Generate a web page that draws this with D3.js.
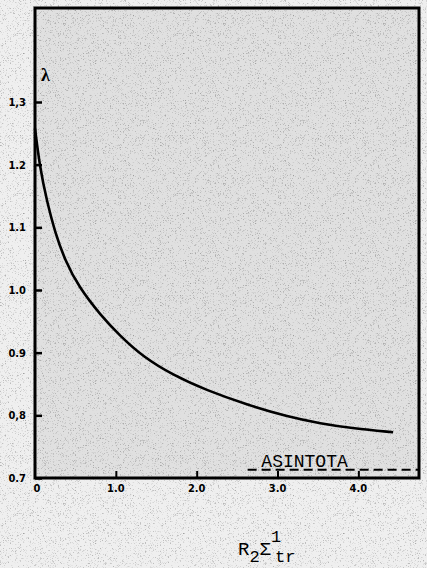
<!DOCTYPE html>
<html>
<head>
<meta charset="utf-8">
<script src="https://cdn.jsdelivr.net/npm/d3@7"></script>
<style>
  html, body { margin: 0; padding: 0; background: #e9e9e9; }
  svg { display: block; }
</style>
</head>
<body>
<div id="chart"></div>
<script>
// values
var curveX = [0, 0.06, 0.145, 0.25, 0.37, 0.54, 0.81, 1.05, 1.34, 1.71, 2.12, 2.62, 3.12, 3.53, 3.94, 4.43];
var curveY = [1.258, 1.196, 1.143, 1.091, 1.048, 1.005, 0.960, 0.927, 0.893, 0.864, 0.840, 0.817, 0.798, 0.787, 0.779, 0.773];
var yTicks = [0.7, 0.8, 0.9, 1.0, 1.1, 1.2, 1.3];
var yTickLabels = ["0.7", "0,8", "0.9", "1.0", "1.1", "1.2", "1,3"];
var xTicks = [0, 1, 2, 3, 4];
var xTickLabels = ["0", "1.0", "2.0", "3.0", "4.0"];
var asymptote = 0.713;
var asymptoteFrom = 2.63;

var width = 427, height = 568;
var plotLeft = 35, plotRight = 419, plotTop = 8, plotBottom = 478;

var x = d3.scaleLinear().domain([0, 4.75]).range([plotLeft, plotRight]);
var y = d3.scaleLinear().domain([0.7, 1.45]).range([plotBottom, plotTop]);

var svg = d3.select("#chart").append("svg")
    .attr("width", width)
    .attr("height", height);

// scanned paper look
var defs = svg.append("defs");
var f = defs.append("filter").attr("id", "grain")
    .attr("x", 0).attr("y", 0).attr("width", "100%").attr("height", "100%");
f.append("feTurbulence").attr("type", "fractalNoise")
    .attr("baseFrequency", 1.6).attr("numOctaves", 1).attr("seed", 3)
    .attr("result", "n");
f.append("feColorMatrix").attr("in", "n").attr("type", "matrix")
    .attr("values", "0 0 0 0 0  0 0 0 0 0  0 0 0 0 0  -3 0 0 0 1.3");

svg.append("rect").attr("width", width).attr("height", height).attr("fill", "#efefef");
svg.append("rect").attr("x", plotLeft).attr("y", plotTop)
    .attr("width", plotRight - plotLeft).attr("height", plotBottom - plotTop)
    .attr("fill", "#e0e0e0");
svg.append("rect").attr("width", width).attr("height", height)
    .attr("filter", "url(#grain)").attr("opacity", 0.4);

// frame
svg.append("rect")
    .attr("x", plotLeft).attr("y", plotTop)
    .attr("width", plotRight - plotLeft).attr("height", plotBottom - plotTop)
    .attr("fill", "none")
    .attr("stroke", "#000")
    .attr("stroke-width", 3);

// y axis - ticks point inward
var yAxis = svg.append("g")
    .attr("transform", "translate(" + plotLeft + ",0)")
    .call(d3.axisRight(y).tickValues(yTicks).tickSize(7).tickFormat(""));
yAxis.select(".domain").remove();
yAxis.selectAll("line").attr("stroke", "#000").attr("stroke-width", 2.5);

svg.selectAll(".ylab")
    .data(yTicks)
    .enter().append("text")
    .attr("class", "ylab")
    .attr("x", plotLeft - 9)
    .attr("y", function(d) { return y(d) + 4; })
    .attr("text-anchor", "end")
    .attr("font-family", "DejaVu Sans Condensed, DejaVu Sans")
    .attr("font-weight", "bold")
    .attr("font-size", 11)
    .text(function(d, i) { return yTickLabels[i]; });

// x axis - ticks point up
var xAxis = svg.append("g")
    .attr("transform", "translate(0," + plotBottom + ")")
    .call(d3.axisTop(x).tickValues(xTicks.slice(1)).tickSize(7).tickFormat(""));
xAxis.select(".domain").remove();
xAxis.selectAll("line").attr("stroke", "#000").attr("stroke-width", 2);

svg.selectAll(".xlab")
    .data(xTicks)
    .enter().append("text")
    .attr("class", "xlab")
    .attr("x", function(d) { return d === 0 ? x(d) + 2 : x(d); })
    .attr("y", plotBottom + 14)
    .attr("text-anchor", "middle")
    .attr("font-family", "DejaVu Sans Condensed, DejaVu Sans")
    .attr("font-weight", "bold")
    .attr("font-size", 11)
    .text(function(d, i) { return xTickLabels[i]; });

// asymptote
svg.append("line")
    .attr("x1", x(asymptoteFrom)).attr("x2", x(4.75))
    .attr("y1", y(asymptote)).attr("y2", y(asymptote))
    .attr("stroke", "#000")
    .attr("stroke-width", 2)
    .attr("stroke-dasharray", "9,5");

svg.append("text")
    .attr("x", x(2.8))
    .attr("y", y(asymptote) - 3)
    .attr("font-family", "Liberation Mono, DejaVu Sans Mono")
    .attr("font-size", 18)
    .attr("fill", "#000")
    .text("ASINTOTA");

// the curve
var pts = curveX.map(function(d, i) { return [d, curveY[i]]; });
var line = d3.line()
    .x(function(d) { return x(d[0]); })
    .y(function(d) { return y(d[1]); })
    .curve(d3.curveBasis);

svg.append("path")
    .datum(pts)
    .attr("d", line)
    .attr("fill", "none")
    .attr("stroke", "#000")
    .attr("stroke-width", 2.6);

// axis titles
svg.append("text")
    .attr("x", 41).attr("y", 81)
    .attr("font-family", "Liberation Serif, DejaVu Serif")
    .attr("font-weight", "bold")
    .attr("font-size", 18)
    .text("λ");

var t = svg.append("text")
    .attr("x", 238).attr("y", 555)
    .attr("font-family", "Liberation Mono, DejaVu Sans Mono")
    .attr("font-size", 19)
    .attr("fill", "#000");
t.append("tspan").text("R");
t.append("tspan").attr("dy", 7).attr("font-size", 17).text("2");
t.append("tspan").attr("dy", -7).text("Σ");
t.append("tspan").attr("dy", -13).attr("font-size", 17).text("1");
t.append("tspan").attr("x", 275).attr("dy", 20).attr("font-size", 17).text("tr");
</script>
</body>
</html>
